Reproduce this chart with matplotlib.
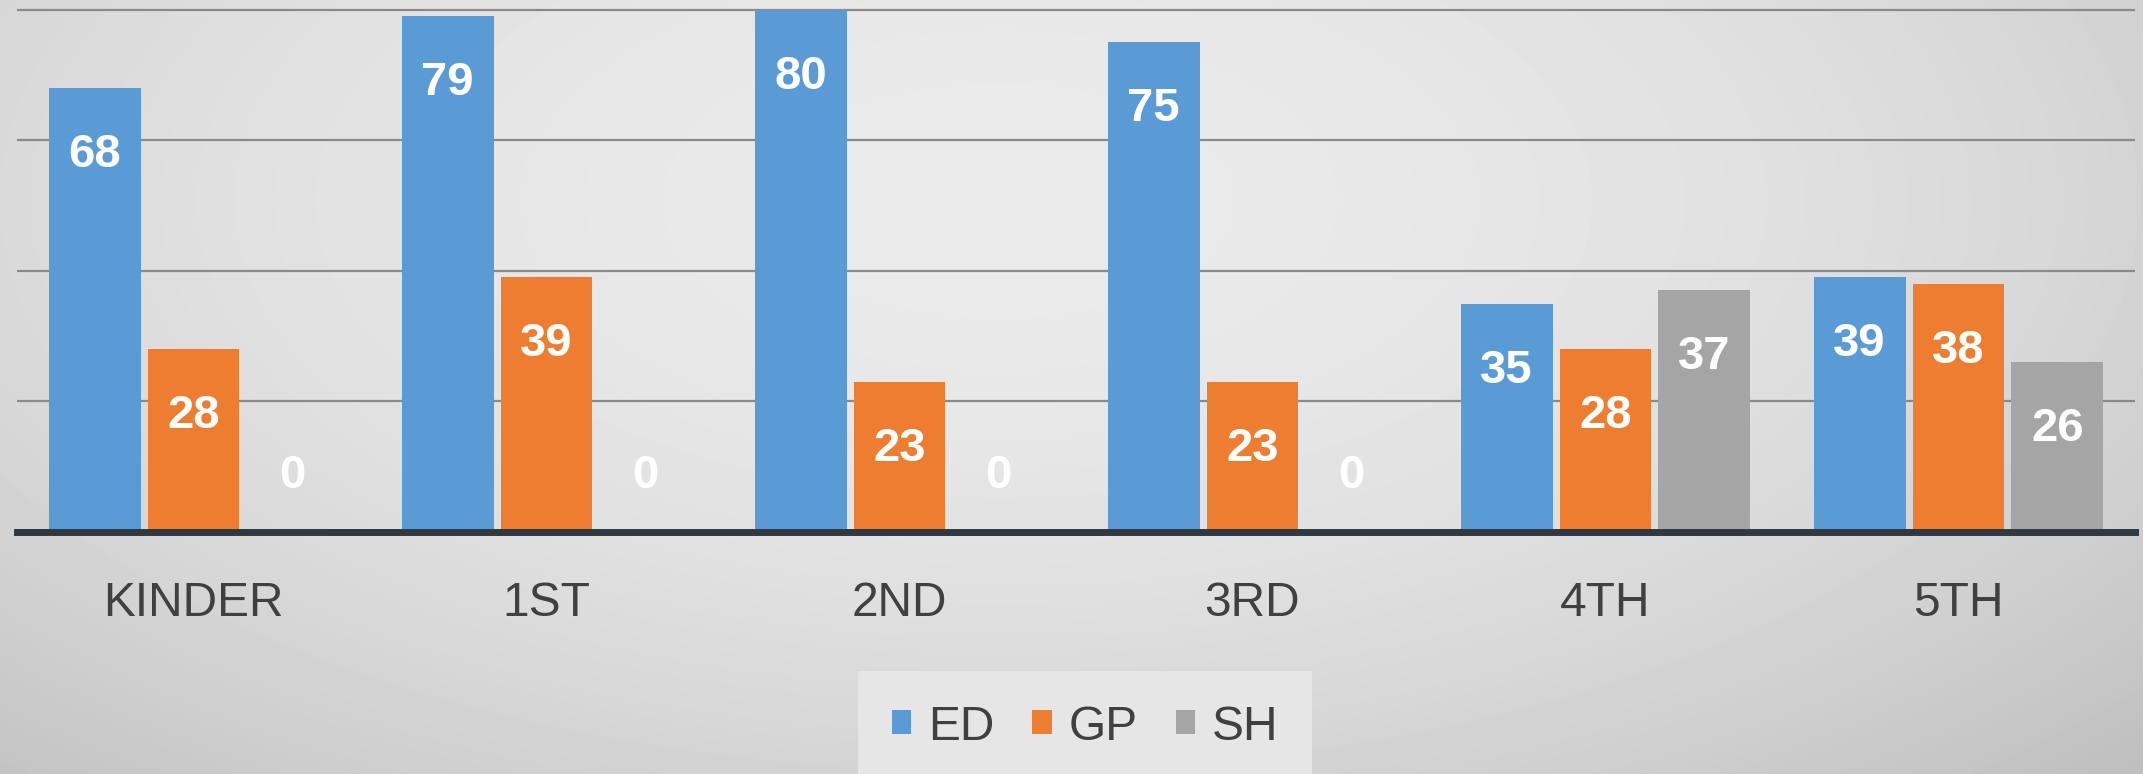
import numpy as np
import matplotlib
matplotlib.use("Agg")
import matplotlib.pyplot as plt

FIGSIZE = (21.43, 7.74)
DPI = 100

plt.rcParams['font.family'] = ['Liberation Sans', 'DejaVu Sans']

###############################################################################

''' Data '''

grades = ['KINDER', '1ST', '2ND', '3RD', '4TH', '5TH']
series = ['ED', 'GP', 'SH']
ed = [68, 79, 80, 75, 35, 39]
gp = [28, 39, 23, 23, 28, 38]
sh = [0, 0, 0, 0, 37, 26]
colors = ['#5B9BD5', '#ED7D31', '#A5A5A5']

###############################################################################

fig = plt.figure(figsize=FIGSIZE, dpi=DPI)

# grey radial background
bg = fig.add_axes([0, 0, 1, 1], zorder=0)
w, h = 2143, 774
yy, xx = np.mgrid[0:h, 0:w]
r2 = ((xx - 1000) / 1143.0) ** 2 + ((yy - 200) / 574.0) ** 2
grey = np.clip(234 - 22 * r2, 0, 255) / 255.0
bg.imshow(grey, cmap='gray', vmin=0, vmax=1, aspect='auto',
          extent=[0, 1, 0, 1], origin='upper')
bg.set_axis_off()

ax = fig.add_axes([17 / w, 1 - 532 / h, (2135 - 17) / w, 532 / h], zorder=1)
ax.set_facecolor('none')

x = np.arange(len(grades))
bw = 0.26
step = 0.28
bars = []
for k, (vals, name, c) in enumerate(zip([ed, gp, sh], series, colors)):
    b = ax.bar(x + (k - 1) * step, vals, bw, color=c, label=name, zorder=3)
    bars.append(b)
    for xi, v in zip(x + (k - 1) * step, vals):
        # empty bars get their label just above the axis line
        dy = -79 if v > 0 else 44
        ax.annotate(str(v), (xi, v), xytext=(0, dy), textcoords='offset pixels',
                    ha='center', va='baseline', color='white',
                    fontsize=34, fontweight='bold', zorder=4)

ax.set_xlim(-0.5, 5.5)
ax.set_ylim(0, 81.5)
ax.set_yticks([20, 40, 60, 80])
ax.yaxis.grid(True, color='#8a8a8a', lw=1.6, zorder=1)
ax.tick_params(axis='y', left=False, labelleft=False)
ax.set_xticks(x)
ax.set_xticklabels(grades, fontsize=34.5, color='#404040')
ax.tick_params(axis='x', length=0, pad=35)
for s in ['top', 'left', 'right']:
    ax.spines[s].set_visible(False)
ax.spines['bottom'].set_color('#303840')
ax.spines['bottom'].set_linewidth(5)
ax.spines['bottom'].set_zorder(5)

leg = fig.legend(handles=bars, labels=series, loc='center',
                 bbox_to_anchor=(1085 / w, 1 - 727 / h), ncol=3,
                 fontsize=34.5, handlelength=0.4, handleheight=0.4,
                 handletextpad=0.35, columnspacing=0.8, borderpad=0.7,
                 frameon=True, fancybox=False)
leg.get_frame().set_facecolor('#e6e6e6')
leg.get_frame().set_edgecolor('none')
leg.get_frame().set_alpha(1)
for t in leg.get_texts():
    t.set_color('#404040')

fig.savefig('out.png', dpi=DPI)
